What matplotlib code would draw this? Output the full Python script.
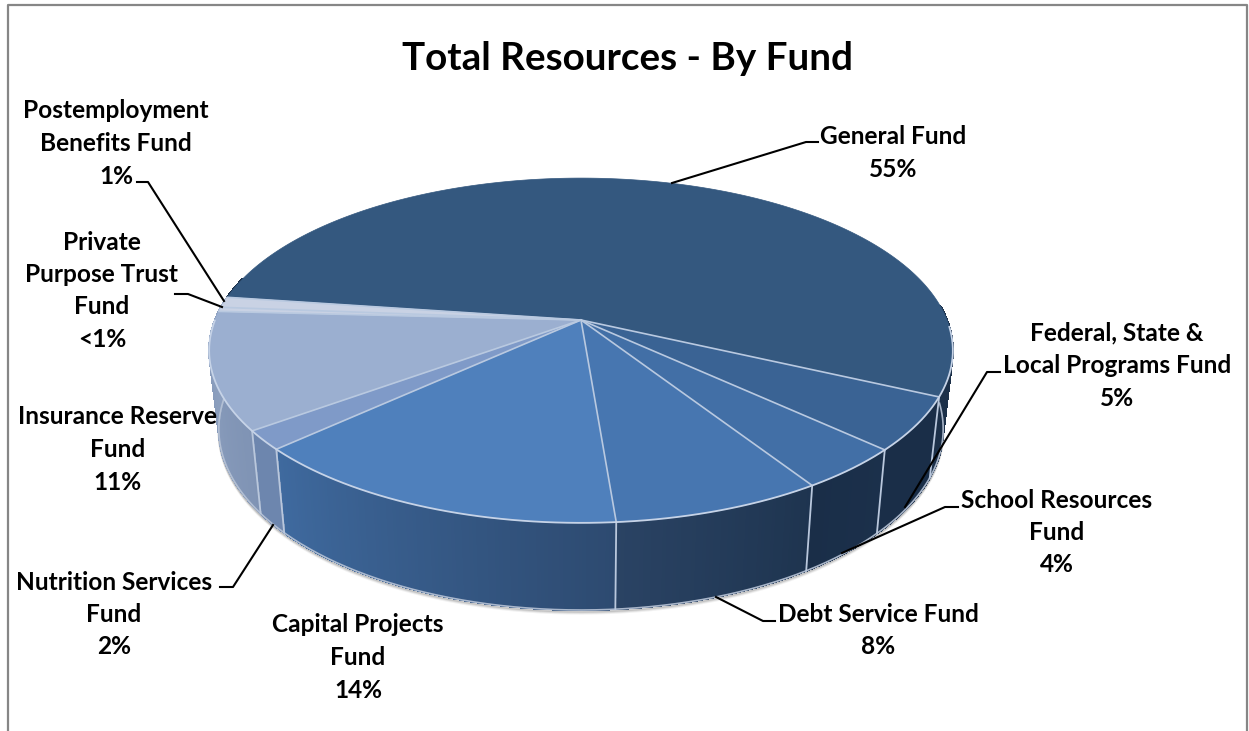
import matplotlib
matplotlib.use("Agg")
import matplotlib.pyplot as plt
import numpy as np

funds = ["General Fund", "Federal, State &\nLocal Programs Fund", "School Resources\nFund",
         "Debt Service Fund", "Capital Projects\nFund", "Nutrition Services\nFund",
         "Insurance Reserve\nFund", "Private\nPurpose Trust\nFund", "Postemployment\nBenefits Fund"]
values = [55, 5, 4, 7.8, 14.4, 1.8, 11, 0.4, 1]
pct_labels = ["55%", "5%", "4%", "8%", "14%", "2%", "11%", "<1%", "1%"]

top_colors = ["#34587f", "#3a6394", "#426fa6", "#4776b0", "#4f80bc", "#7f9ac8", "#9bafd0", "#c9d2e4", "#c9d2e4"]
wall_left = ["#1c3049", "#1a2e48", "#1a2e48", "#2a4364", "#3f6a9f", "#6d86ae", "#8ea1c0", "#a0b0cc", "#a0b0cc"]
wall_right = ["#1c3049", "#1a2e48", "#1b304b", "#1e344f", "#2d4a70", "#6d86ae", "#7f93b4", "#a0b0cc", "#a0b0cc"]

# label centres in picture pixels
label_x = [893, 1117, 1057, 878, 358, 114, 118, 102, 116]
label_y = [137, 333, 500, 614, 625, 582, 417, 242, 111]
leaders = [[(672, 183), (806, 142), (818, 142)],
           [(905, 507), (987, 372), (1000, 372)],
           [(842, 553), (945, 507), (958, 507)],
           [(716, 597), (763, 621), (775, 621)],
           None,
           [(273, 525), (233, 587), (220, 587)],
           None,
           [(222, 307), (188, 294), (175, 294)],
           [(224, 301), (148, 182), (137, 182)]]

# pie geometry, a circle seen in perspective
cx, cy = 581, 320
R, A, k = 366, 167, 0.1768
start = 278.0
wall_sx, wall_sy, wall_d = 0.974, 1.05, 77


def top_xy(theta):
    t = np.radians(theta)
    u, v = np.sin(t), -np.cos(t)
    d = 1 - k * v
    return cx + R * u / d, cy + A * v / d


def bot_xy(theta):
    x, y = top_xy(theta)
    return cx + wall_sx * (x - cx), cy + wall_d + wall_sy * (y - cy)


def mix(c1, c2, f):
    a = np.array(matplotlib.colors.to_rgb(c1))
    b = np.array(matplotlib.colors.to_rgb(c2))
    return tuple(a + (b - a) * f)


plt.rcParams["font.family"] = ["Lato", "DejaVu Sans"]
fig = plt.figure(figsize=(12.49, 7.31), dpi=100)
ax = fig.add_axes([0, 0, 1, 1])
ax.set_xlim(0, 1249)
ax.set_ylim(731, 0)
ax.axis("off")

# chart border, open at the bottom
ax.plot([8, 8, 1247, 1247], [731, 5, 5, 731], color="#868686", lw=1.6, zorder=1)

vals = np.array(values, dtype=float)
sweep = vals / vals.sum() * 360
edges = start + np.concatenate([[0], np.cumsum(sweep)])

# soft shadow under the wall
arc = np.linspace(92, 272, 300)
bx, by = bot_xy(arc)
for off, a_ in [(3.5, 0.10), (2.5, 0.18), (1.5, 0.3)]:
    ax.plot(bx, by + off, color="#777777", alpha=a_, lw=1.6, zorder=2)

# walls
for i in range(len(vals)):
    th = np.arange(edges[i], edges[i + 1] + 0.5, 0.5)
    th = np.append(th[th < edges[i + 1]], edges[i + 1])
    for j in range(len(th) - 1):
        m = ((th[j] + th[j + 1]) / 2) % 360
        if m < 85 or m > 285:
            continue
        f = (j + 0.5) / (len(th) - 1)
        # the wall goes right to left with the angle
        col = mix(wall_right[i], wall_left[i], f)
        x1, y1 = top_xy(th[j])
        x2, y2 = top_xy(th[j + 1])
        x3, y3 = bot_xy(th[j + 1])
        x4, y4 = bot_xy(th[j])
        ax.fill([x1, x2, x3, x4], [y1, y2, y3, y4], color=col, lw=0.8, antialiased=False, zorder=3)

# bottom rim highlight
ax.plot(bx, by, color="#b7c3d6", lw=1.2, alpha=0.9, zorder=4)

# separators on the wall
for e in edges[1:7]:
    x1, y1 = top_xy(e)
    x2, y2 = bot_xy(e)
    ax.plot([x1, x2], [y1, y2], color="#b9c7dc", lw=1.3, zorder=5)

# top face
for i in range(len(vals)):
    th = np.linspace(edges[i], edges[i + 1], max(int(sweep[i] * 2), 3))
    x, y = top_xy(th)
    ax.fill(np.r_[cx, x], np.r_[cy, y], color=top_colors[i], lw=0.5, zorder=6)

for e in edges[1:]:
    x1, y1 = top_xy(e)
    ax.plot([cx, x1], [cy, y1], color="#b9c9e0", lw=1.2, zorder=7)

# rim of the top face
rim = np.linspace(0, 360, 500)
rx, ry = top_xy(rim)
front = (rim > 92) & (rim < 270)
ax.plot(rx[front], ry[front], color="#c6d3e7", lw=1.3, zorder=7)

# leader lines
for pts in leaders:
    if pts is None:
        continue
    ax.plot([p[0] for p in pts], [p[1] for p in pts], color="black", lw=1.5, zorder=8)

# labels, one text per line
pitch = 32.5
for i in range(len(funds)):
    lines = funds[i].split("\n") + [pct_labels[i]]
    for n, line in enumerate(lines):
        ax.text(label_x[i], label_y[i] + n * pitch, line, ha="center", va="center",
                fontsize=17.6, fontweight="bold", color="black", zorder=9)

ax.text(628, 59, "Total Resources - By Fund", ha="center", va="center",
        fontsize=27.8, fontweight="bold", color="black", zorder=9)

fig.savefig("out.png", dpi=100, facecolor="white")
